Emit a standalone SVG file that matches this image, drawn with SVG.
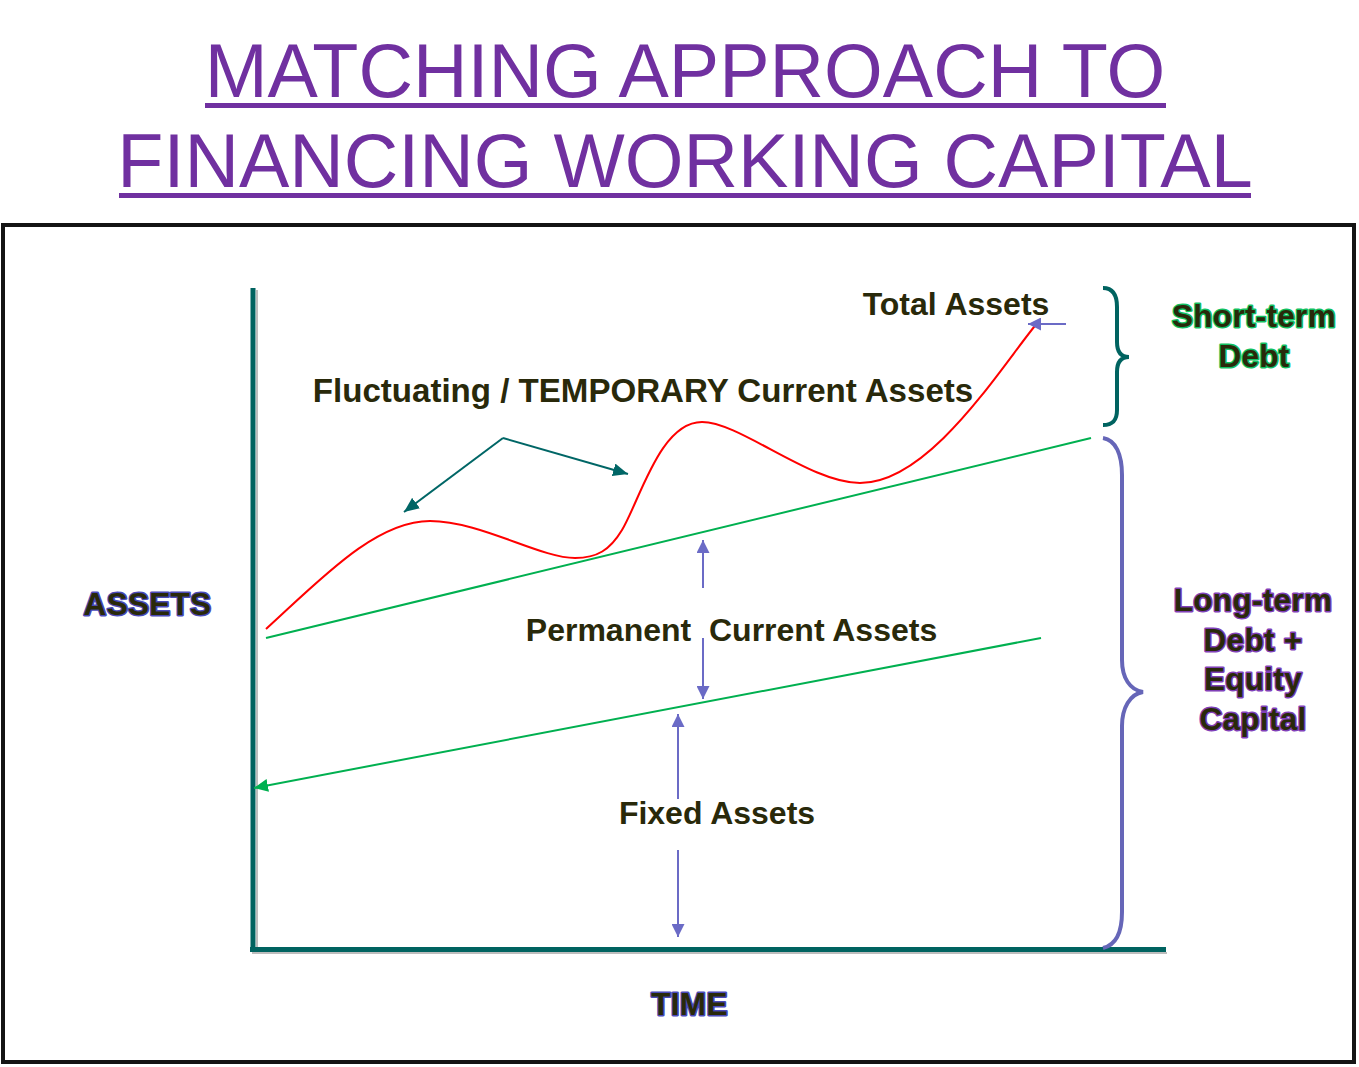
<svg xmlns="http://www.w3.org/2000/svg" width="1359" height="1067" viewBox="0 0 1359 1067">
<style>
.title{font-family:"Liberation Sans",Arial,sans-serif;font-size:75.5px;fill:#7030A0;text-anchor:middle}
.lbl{font-family:"Liberation Sans",Arial,sans-serif;font-weight:bold;fill:#29290A;text-anchor:middle}
.ol{paint-order:stroke;stroke-width:2.8;stroke-linejoin:round;letter-spacing:0.3px}
.blue{stroke:#4A4AB8}
.green{stroke:#10C060}
.purple{stroke:#8040B8}
.barrow{stroke:#6B6BC6;stroke-width:2;fill:none}
</style>
<defs>
<marker id="mb" markerUnits="userSpaceOnUse" markerWidth="14" markerHeight="13" refX="13" refY="6.5" orient="auto">
<path d="M0,0 L13,6.5 L0,13 z" fill="#6B6BC6"/>
</marker>
<marker id="mt" markerUnits="userSpaceOnUse" markerWidth="16" markerHeight="13" refX="15" refY="6.5" orient="auto">
<path d="M0,0 L15,6.5 L0,13 z" fill="#006666"/>
</marker>
<marker id="mg" markerUnits="userSpaceOnUse" markerWidth="15" markerHeight="13" refX="14" refY="6.5" orient="auto">
<path d="M0,0 L14,6.5 L0,13 z" fill="#00B050"/>
</marker>
</defs>
<rect width="1359" height="1067" fill="#FFFFFF"/>
<g id="title">
<text class="title" x="685" y="97">MATCHING APPROACH TO</text>
<rect x="205" y="103" width="961" height="5" fill="#7030A0"/>
<text class="title" x="685" y="187">FINANCING WORKING CAPITAL</text>
<rect x="119" y="193" width="1132" height="5" fill="#7030A0"/>
</g>
<rect id="frame" x="3" y="225" width="1351" height="837" fill="none" stroke="#141414" stroke-width="4"/>
<g id="axes">
<line x1="257" y1="290" x2="257" y2="952" stroke="#BDBDBD" stroke-width="2"/>
<line x1="252" y1="953" x2="1167" y2="953" stroke="#BDBDBD" stroke-width="2"/>
<line x1="253" y1="288" x2="253" y2="952" stroke="#006360" stroke-width="5"/>
<line x1="250" y1="949.5" x2="1166" y2="949.5" stroke="#006360" stroke-width="5"/>
</g>
<g id="connectors">
<path id="total-assets-curve" d="M266,629 C320,580 375,521 430,521 C480,521 540,558 575,558 C597,558 610,550 622,530 C640,500 660,422 702,422 C740,422 810,483 860,483 C930,483 1000,368 1038,322" fill="none" stroke="#FF0000" stroke-width="2"/>
<line id="pca-top" x1="266" y1="638" x2="1091" y2="438" stroke="#00B050" stroke-width="2"/>
<line id="fa-top" x1="1041" y1="638" x2="254" y2="788" stroke="#00B050" stroke-width="2" marker-end="url(#mg)"/>
<polyline points="503,438 404,512" fill="none" stroke="#006666" stroke-width="2" marker-end="url(#mt)"/>
<polyline points="503,438 628,474" fill="none" stroke="#006666" stroke-width="2" marker-end="url(#mt)"/>
<line class="barrow" x1="1066" y1="324" x2="1028" y2="324" marker-end="url(#mb)"/>
<line class="barrow" x1="703" y1="588" x2="703" y2="540" marker-end="url(#mb)"/>
<line class="barrow" x1="703" y1="638" x2="703" y2="699" marker-end="url(#mb)"/>
<line class="barrow" x1="678" y1="799" x2="678" y2="714" marker-end="url(#mb)"/>
<line class="barrow" x1="678" y1="850" x2="678" y2="937" marker-end="url(#mb)"/>
</g>
<g id="brace-short">
<path d="M1103,288 C1113,288 1117,295 1117,307 L1117,342 C1117,352 1121,357 1129,357 C1121,357 1117,362 1117,372 L1117,410 C1117,420 1113,425 1103,425" fill="none" stroke="#006360" stroke-width="4"/>
</g>
<g id="brace-long">
<path d="M1103,438 C1116,440 1122,455 1122,475 L1122,660 C1122,678 1130,690 1143,692 C1130,694 1122,708 1122,726 L1122,912 C1122,932 1116,945 1103,948" fill="none" stroke="#6666B8" stroke-width="4"/>
</g>
<g id="label-total-assets"><text class="lbl" x="956" y="315" font-size="32">Total Assets</text></g>
<g id="label-fluctuating"><text class="lbl" x="643" y="402" font-size="33.1">Fluctuating / TEMPORARY Current Assets</text></g>
<g id="label-permanent"><text class="lbl" x="731.5" y="641" font-size="32" style="white-space:pre">Permanent  Current Assets</text></g>
<g id="label-fixed"><text class="lbl" x="717" y="824" font-size="32">Fixed Assets</text></g>
<g id="label-assets"><text class="lbl ol blue" x="147.5" y="615" font-size="31.5">ASSETS</text></g>
<g id="label-time"><text class="lbl ol blue" x="689.5" y="1015" font-size="31.5">TIME</text></g>
<g id="label-short-term">
<text class="lbl ol green" x="1254" y="327" font-size="31.5">Short-term</text>
<text class="lbl ol green" x="1254" y="367" font-size="31.5">Debt</text>
</g>
<g id="label-long-term">
<text class="lbl ol purple" x="1253" y="611" font-size="31.5">Long-term</text>
<text class="lbl ol purple" x="1253" y="651" font-size="31.5">Debt +</text>
<text class="lbl ol purple" x="1253" y="690" font-size="31.5">Equity</text>
<text class="lbl ol purple" x="1253" y="730" font-size="31.5">Capital</text>
</g>
</svg>
